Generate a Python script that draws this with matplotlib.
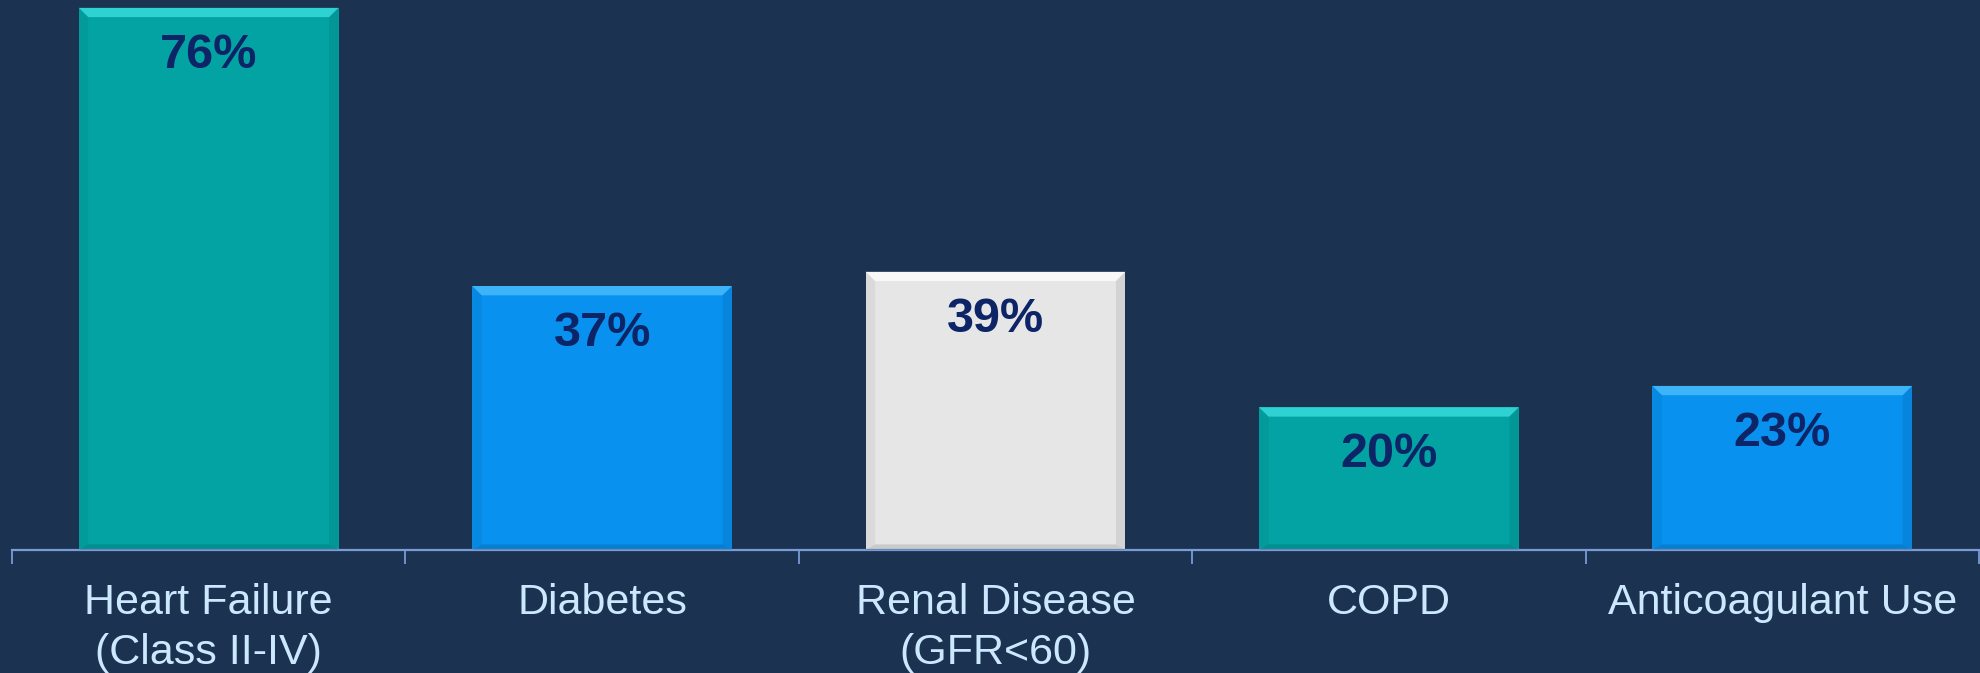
import numpy as np
import matplotlib.pyplot as plt
from matplotlib.patches import Polygon

plt.rcParams['font.family'] = ['Liberation Sans', 'DejaVu Sans']

categories = ['Heart Failure\n(Class II-IV)', 'Diabetes', 'Renal Disease\n(GFR<60)',
              'COPD', 'Anticoagulant Use']
values = [76, 37, 39, 20, 23]
labels = ['76%', '37%', '39%', '20%', '23%']
colors = ['#03A3A3', '#0891EF', '#E6E6E6', '#03A3A3', '#0891EF']
tops = ['#3FE3E3', '#4FC0FF', '#FFFFFF', '#3FE3E3', '#4FC0FF']

bg = '#1B3350'
fig = plt.figure(figsize=(19.8, 6.73), dpi=100, facecolor=bg)
ax = fig.add_axes([12/1980, 123/673, 1967/1980, 550/673])
ax.set_facecolor(bg)

x = np.arange(len(values))
w = 0.66
ax.bar(x, values, width=w, color=colors, zorder=2)

# bevel: light top strip, darker sides and bottom
dy = 1.3
dx = 0.024
for xi, v, c, t in zip(x, values, colors, tops):
    l, r = xi - w/2, xi + w/2
    ax.add_patch(Polygon([[l, v], [r, v], [r - dx, v - dy], [l + dx, v - dy]],
                         closed=True, fc=t, ec='none', alpha=0.75, zorder=3))
    ax.add_patch(Polygon([[l, 0], [r, 0], [r - dx, dy*0.6], [l + dx, dy*0.6]],
                         closed=True, fc='black', ec='none', alpha=0.12, zorder=3))
    ax.add_patch(Polygon([[r, 0], [r, v], [r - dx, v - dy], [r - dx, dy*0.6]],
                         closed=True, fc='black', ec='none', alpha=0.08, zorder=3))
    ax.add_patch(Polygon([[l, 0], [l, v], [l + dx, v - dy], [l + dx, dy*0.6]],
                         closed=True, fc='black', ec='none', alpha=0.05, zorder=3))

for xi, v, s in zip(x, values, labels):
    ax.annotate(s, (xi, v), xytext=(0, -34), textcoords='offset points',
                ha='center', va='center', fontsize=35, fontweight='bold',
                color='#0D2466', zorder=4)

ax.set_xlim(-0.5, len(values) - 0.5)
ax.set_ylim(0, 77.1)
for s in ['top', 'right', 'left']:
    ax.spines[s].set_visible(False)
ax.spines['bottom'].set_color('#7A9BD8')
ax.spines['bottom'].set_linewidth(1.6)
ax.set_yticks([])

ax.set_xticks(np.arange(len(values) + 1) - 0.5)
ax.set_xticklabels([])
ax.tick_params(axis='x', which='major', length=10, width=1.3, color='#7A9BD8')
ax.set_xticks(x, minor=True)
ax.set_xticklabels(categories, minor=True, fontsize=31, color='#CCE8FF',
                   linespacing=1.3)
ax.tick_params(axis='x', which='minor', length=0, pad=24)

fig.savefig('out.png', dpi=100, facecolor=bg)
